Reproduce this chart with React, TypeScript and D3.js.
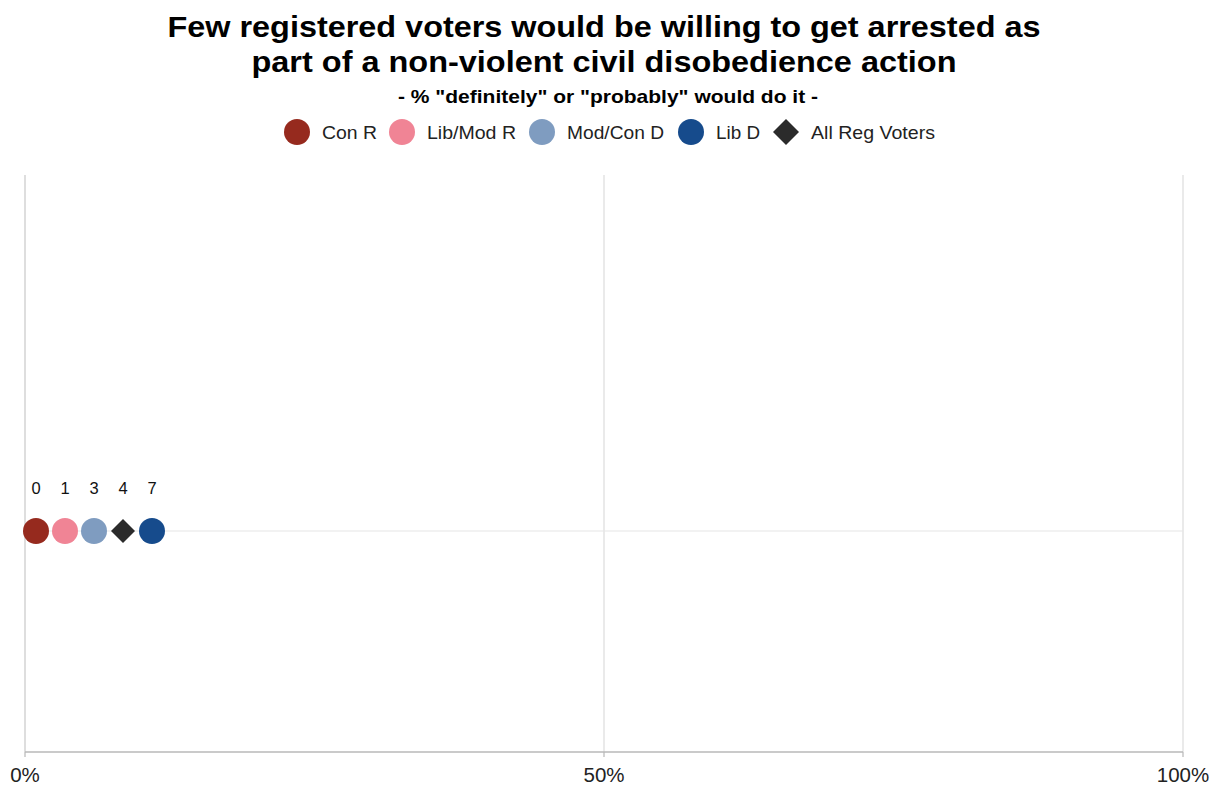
import React from "react";
import * as d3 from "d3";

const groups = ["Con R", "Lib/Mod R", "Mod/Con D", "All Reg Voters", "Lib D"];
const values = [0, 1, 3, 4, 7];
const colors = ["#962A1E", "#F08495", "#7F9CC0", "#2B2B2B", "#164B8C"];
const shapes = ["circle", "circle", "circle", "diamond", "circle"];
const legendOrder = ["Con R", "Lib/Mod R", "Mod/Con D", "Lib D", "All Reg Voters"];
const xTicks = [0, 50, 100];

const W = 1210, H = 785;
const FONT = "'Liberation Sans', Arial, Helvetica, sans-serif";

export default function App() {
  const x = d3.scaleLinear().domain([0, 100]).range([25, 1183]);
  const top = 175, bottom = 752, rowY = 531;
  const r = 13;
  const spacing = 29;
  const pos: number[] = [];
  values.forEach((v, i) => {
    const base = Math.max(x(v), x(0) + 11);
    pos.push(i === 0 ? base : Math.max(base, pos[i - 1] + spacing));
  });
  const legendX = [297, 402, 542, 691, 786];
  const legendW = [55, 89, 97, 44, 124];
  const diamond = (cx: number, cy: number, s: number) =>
    `M${cx},${cy - s}L${cx + s},${cy}L${cx},${cy + s}L${cx - s},${cy}Z`;
  return (
    <svg width={W} height={H} style={{ position: "absolute", left: 0, top: 0, background: "#fff" }} fontFamily={FONT}>
      <text x={604} y={37} textAnchor="middle" fontSize={30} fontWeight="bold" fill="#000" textLength={873} lengthAdjust="spacingAndGlyphs">Few registered voters would be willing to get arrested as</text>
      <text x={604} y={72} textAnchor="middle" fontSize={30} fontWeight="bold" fill="#000" textLength={705} lengthAdjust="spacingAndGlyphs">part of a non-violent civil disobedience action</text>
      <text x={608} y={103} textAnchor="middle" fontSize={18.5} fontWeight="bold" fill="#000" textLength={420} lengthAdjust="spacingAndGlyphs">- % "definitely" or "probably" would do it -</text>
      {legendOrder.map((g, i) => {
        const idx = groups.indexOf(g);
        const cx = legendX[i];
        return (
          <g key={g}>
            {shapes[idx] === "diamond" ? (
              <path d={diamond(cx, 132, 13)} fill={colors[idx]} />
            ) : (
              <circle cx={cx} cy={132} r={13} fill={colors[idx]} />
            )}
            <text x={cx + 25} y={139} fontSize={18.5} fill="#222" textLength={legendW[i]} lengthAdjust="spacingAndGlyphs">{g}</text>
          </g>
        );
      })}
      {xTicks.map((t) => (
        <line key={t} x1={x(t)} x2={x(t)} y1={top} y2={bottom} stroke={t === 0 ? "#c8c8c8" : "#dcdcdc"} strokeWidth={1.2} />
      ))}
      <line x1={x(0)} x2={x(100)} y1={rowY} y2={rowY} stroke="#e6e6e6" strokeWidth={1.2} />
      <line x1={x(0)} x2={x(100)} y1={bottom} y2={bottom} stroke="#b8b8b8" strokeWidth={1.5} />
      {xTicks.map((t) => (
        <g key={"t" + t}>
          <line x1={x(t)} x2={x(t)} y1={bottom} y2={bottom + 5} stroke="#b8b8b8" strokeWidth={1.2} />
          <text x={x(t)} y={782} textAnchor="middle" fontSize={20.5} fill="#222">{t + "%"}</text>
        </g>
      ))}
      {values.map((v, i) => (
        <g key={groups[i]}>
          {shapes[i] === "diamond" ? (
            <path d={diamond(pos[i], rowY, 12)} fill={colors[i]} />
          ) : (
            <circle cx={pos[i]} cy={rowY} r={r} fill={colors[i]} />
          )}
          <text x={pos[i]} y={494} textAnchor="middle" fontSize={16.5} fill="#111">{v}</text>
        </g>
      ))}
    </svg>
  );
}
